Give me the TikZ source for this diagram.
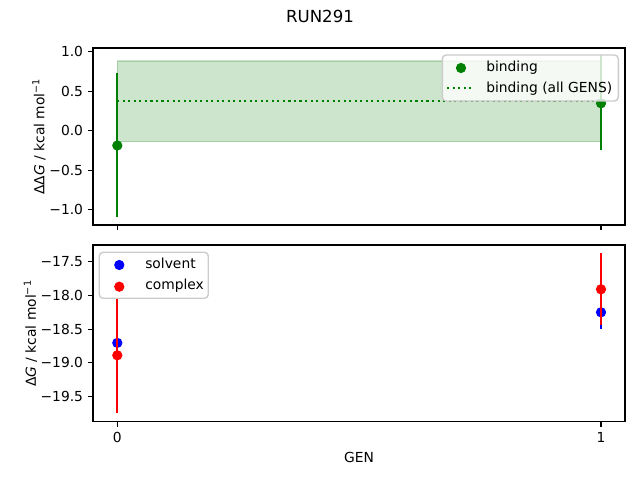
\documentclass[tikz,border=0pt]{standalone}
\usepackage{fontspec}
\setmainfont{DejaVu Sans}
\definecolor{mgreen}{HTML}{008000}
\definecolor{mblue}{HTML}{0000FF}
\definecolor{mred}{HTML}{FF0000}
\definecolor{lgedge}{HTML}{CCCCCC}
\tikzset{
  spine/.style={line width=0.8bp, black},
  tickmark/.style={line width=0.8bp, black},
  ebar/.style={line width=1.5bp},
  dot/.style={radius=3.7bp},
  dotline/.style={line width=1.5bp, mgreen, dash pattern=on 1.5bp off 2.475bp},
  ticklab/.style={font=\fontsize{10}{12}\selectfont, inner sep=0pt},
  legbox/.style={draw=lgedge, line width=1bp, fill=white, fill opacity=0.8, rounded corners=2.8bp},
  leglab/.style={font=\fontsize{10}{12}\selectfont, inner sep=0pt, anchor=base west},
}
\begin{document}
\begin{tikzpicture}[x=0.72bp, y=-0.72bp]
\useasboundingbox (0,0) rectangle (640,480);
\fill[white] (0,0) rectangle (640,480);
% title
\node[ticklab, font=\fontsize{12}{14}\selectfont, anchor=base] (title) at (320,23) {RUN291};

% ===== top axes =====
\fill[mgreen, fill opacity=0.2] (117.3,61) rectangle (601,141.7);
\draw[mgreen, draw opacity=0.2, line width=1bp] (117.3,61) rectangle (601,141.7);
\draw[dotline] (117.3,100.7) -- (601,100.7);
\draw[ebar, mgreen] (117.3,73.3) -- (117.3,216.7);
\fill[mgreen, dot] (117.3,145.5) circle;
\draw[ebar, mgreen] (601,55.3) -- (601,150.2);
\fill[mgreen, dot] (601,103.3) circle;
% legend top
\draw[legbox] (442.3,55) rectangle (618.3,101);
\fill[mgreen, dot] (461,68) circle;
\draw[dotline] (447,87.7) -- (474,87.7);
\node[leglab] (l1) at (486,71.5) {binding};
\node[leglab] (l2) at (486,92.5) {binding (all GENS)};
% spines
\draw[spine] (93,48) rectangle (625,225);
% ticks
\foreach \yy/\lab in {51.7/1.0, 91.1/0.5, 130.6/0.0, 170.1/−0.5, 209.8/−1.0}{
  \draw[tickmark] (93,\yy) -- (88.1,\yy);
  \node[ticklab, anchor=base east] at (83.3,\yy+5) {\lab};
}
\draw[tickmark] (117.3,225) -- (117.3,229.9);
\draw[tickmark] (601,225) -- (601,229.9);
\node[ticklab, rotate=90, anchor=south] (ylab1) at (46,136.5) {ΔΔ\textit{G} / kcal mol\textsuperscript{−1}};

% ===== bottom axes =====
\draw[ebar, mblue] (117.3,326.5) -- (117.3,360);
\fill[mblue, dot] (117.3,342.9) circle;
\draw[ebar, mblue] (601,295.5) -- (601,329.3);
\fill[mblue, dot] (601,312.3) circle;
\draw[ebar, mred] (117.3,298.3) -- (117.3,413.3);
\fill[mred, dot] (117.3,355.3) circle;
\draw[ebar, mred] (601,253.3) -- (601,325);
\fill[mred, dot] (601,289.3) circle;
% legend bottom
\draw[legbox] (99.3,252.3) rectangle (208.3,298.3);
\fill[mblue, dot] (119.3,265) circle;
\fill[mred, dot] (119.3,286.7) circle;
\node[leglab] (l3) at (145,268.5) {solvent};
\node[leglab] (l4) at (145,289.5) {complex};
% spines
\draw[spine] (93,245) rectangle (625,421.7);
\foreach \yy/\lab in {261.7/−17.5, 295.5/−18.0, 329.2/−18.5, 362.9/−19.0, 396.7/−19.5}{
  \draw[tickmark] (93,\yy) -- (88.1,\yy);
  \node[ticklab, anchor=base east] at (83.3,\yy+5) {\lab};
}
\draw[tickmark] (117.3,421.7) -- (117.3,426.6);
\draw[tickmark] (601,421.7) -- (601,426.6);
\node[ticklab, anchor=base] (x0) at (117.3,442.3) {0};
\node[ticklab, anchor=base] (x1) at (601,442.3) {1};
\node[ticklab, anchor=base] (xlab) at (359,462.7) {GEN};
\node[ticklab, rotate=90, anchor=south] (ylab2) at (37.5,333.5) {Δ\textit{G} / kcal mol\textsuperscript{−1}};
\end{tikzpicture}
\end{document}
